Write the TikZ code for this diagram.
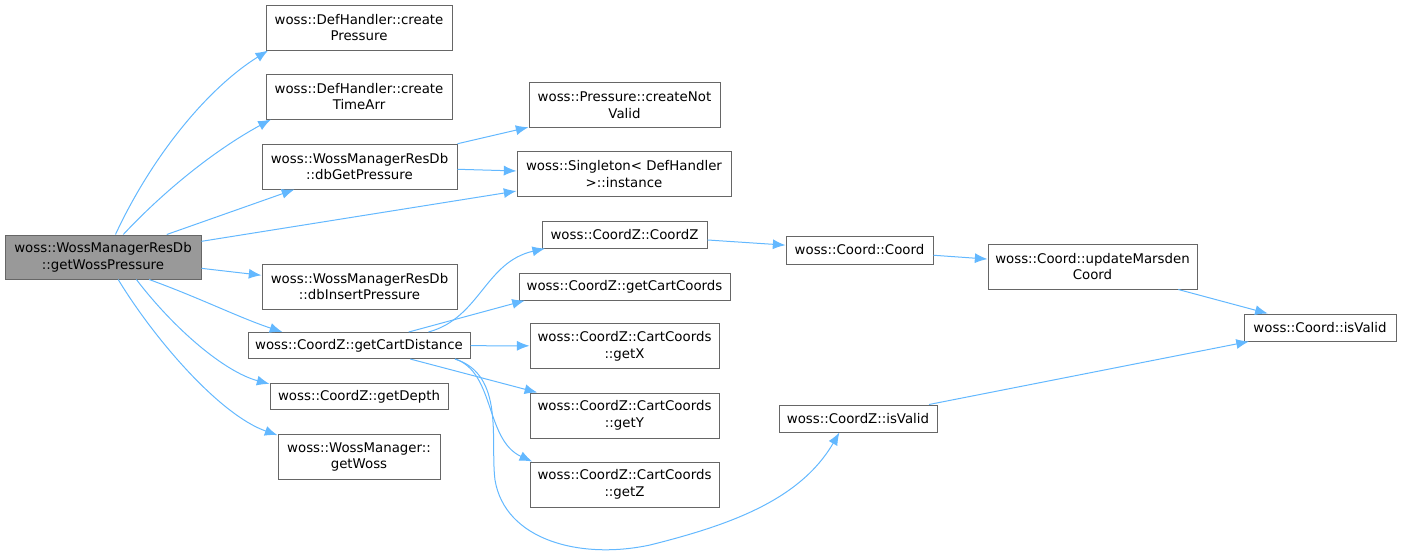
\documentclass[tikz,border=0pt]{standalone}
\usepackage{fontspec}
\setmainfont{DejaVu Sans}
\usepackage{tikz}
\usepackage{xcolor}
\usetikzlibrary{arrows.meta}
\definecolor{edgeblue}{HTML}{63B8FF}
\definecolor{boxline}{HTML}{666666}
\definecolor{boxfill}{HTML}{999999}
\tikzset{
  fn/.style={draw=boxline, line width=0.75pt, fill=white, align=center, inner sep=1pt,
    font=\fontsize{10}{12.6}\selectfont, minimum height=19.5pt},
  fntwo/.style={fn, minimum height=33.75pt},
  calledge/.style={draw=edgeblue, line width=0.75pt, -{Latex[length=9.5pt,width=7.5pt]}}
}
\begin{document}
\begin{tikzpicture}[x=0.75pt,y=-0.75pt]
                    \useasboundingbox (0,0) rectangle (1402,558);
                    % callers side
                    \node[fntwo,fill=boxfill,minimum width=147pt,minimum height=33pt] (main) at (103,257) {woss::WossManagerResDb\\::getWossPressure};
                    \node[fntwo,minimum width=139.5pt] (cP) at (359,27.5) {woss::DefHandler::create\\Pressure};
                    \node[fntwo,minimum width=139.5pt] (cT) at (359,96.5) {woss::DefHandler::create\\TimeArr};
                    \node[fntwo,minimum width=146.25pt] (dbG) at (359.5,166.5) {woss::WossManagerResDb\\::dbGetPressure};
                    \node[fntwo,minimum width=146.25pt] (dbI) at (359.5,286.5) {woss::WossManagerResDb\\::dbInsertPressure};
                    \node[fn,minimum width=166.5pt] (gCD) at (359,345.5) {woss::CoordZ::getCartDistance};
                    \node[fn,minimum width=133.5pt] (gD) at (359,396.5) {woss::CoordZ::getDepth};
                    \node[fntwo,minimum width=121.5pt] (gW) at (359,457) {woss::WossManager::\\getWoss};
                    % second column
                    \node[fntwo,minimum width=143.25pt] (cNV) at (624.5,105) {woss::Pressure::createNot\\Valid};
                    \node[fntwo,minimum width=160.5pt] (inst) at (624,174) {woss::Singleton< DefHandler\\>::instance};
                    \node[fn,minimum width=123.75pt,minimum height=20.25pt] (CZ) at (624.5,234.5) {woss::CoordZ::CoordZ};
                    \node[fn,minimum width=158.25pt,minimum height=20.25pt] (gCC) at (624.5,286.5) {woss::CoordZ::getCartCoords};
                    \node[fntwo,minimum width=141.75pt] (gX) at (624.5,346) {woss::CoordZ::CartCoords\\::getX};
                    \node[fntwo,minimum width=141.75pt] (gY) at (624.5,415.5) {woss::CoordZ::CartCoords\\::getY};
                    \node[fntwo,minimum width=141.75pt] (gZ) at (624.5,484.5) {woss::CoordZ::CartCoords\\::getZ};
                    % right part
                    \node[fn,minimum width=110.25pt,minimum height=21pt] (Coord) at (859.5,250) {woss::Coord::Coord};
                    \node[fntwo,minimum width=156.75pt] (uMC) at (1092.5,266.5) {woss::Coord::updateMarsden\\Coord};
                    \node[fn,minimum width=114pt,minimum height=20.25pt] (cIV) at (1320,327.5) {woss::Coord::isValid};
                    \node[fn,minimum width=118.5pt,minimum height=20.25pt] (zIV) at (858,418.5) {woss::CoordZ::isValid};

                    \draw[calledge] (main.61) .. controls (150,160) and (205,90) .. ([xshift=2pt]cP.south west);
                    \draw[calledge] (main.48) .. controls (165,190) and (215,150) .. ([xshift=4pt]cT.south west);
                    \draw[calledge] (main) -- (dbG);
                    \draw[calledge] (main) -- (inst);
                    \draw[calledge] (main) -- (dbI);
                    \draw[calledge] (main.-26) .. controls (200,298) and (240,318) .. (gCD.170);
                    \draw[calledge] (main.-34) .. controls (175,330) and (225,372) .. (gD.172);
                    \draw[calledge] (main.-56) .. controls (155,340) and (220,415) .. (gW.165);
                    \draw[calledge] (dbG) -- (cNV);
                    \draw[calledge] (dbG) -- (inst);
                    \draw[calledge] (gCD.11) .. controls (480,318) and (485,262) .. (CZ.190);
                    \draw[calledge] (gCD) -- (gCC.188);
                    \draw[calledge] (gCD) -- (gX);
                    \draw[calledge] (gCD) -- (gY);
                    \draw[calledge] (gCD.-8) .. controls (495,372) and (485,440) .. (gZ.166);
                    \draw[calledge] (gCD.-8) .. controls (505,375) and (490,440) .. (495,480)
                        .. controls (505,540) and (580,560) .. (650,545)
                        .. controls (730,525) and (800,500) .. (zIV.217);
                    \draw[calledge] (CZ) -- (Coord);
                    \draw[calledge] (Coord) -- (uMC);
                    \draw[calledge] (uMC) -- (cIV);
                    \draw[calledge] (zIV) -- (cIV);
                \end{tikzpicture}
\end{document}
